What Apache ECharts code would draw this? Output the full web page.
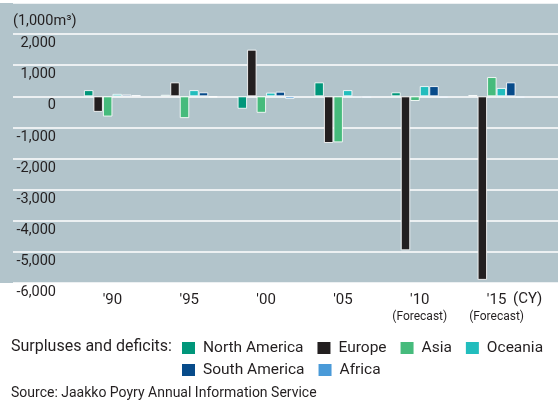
<!DOCTYPE html>
<html>
<head>
<meta charset="utf-8">
<script src="https://cdn.jsdelivr.net/npm/echarts@6/dist/echarts.min.js"></script>
<style>
  html, body { margin: 0; padding: 0; background: #ffffff; }
  #chart { width: 558px; height: 401px; }
</style>
</head>
<body>
<div id="chart"></div>
<script>
// Calendar years (x categories) and the forecast notes under them
const years = ["'90", "'95", "'00", "'05", "'10", "'15"];
const yearNotes = ['', '', '', '', '(Forecast)', '(Forecast)'];

// Surpluses (+) and deficits (-) by region, 1,000 m³
const northAmerica = [200, 50, -400, 450, 130, 40];
const europe       = [-500, 450, 1500, -1500, -4950, -5900];
const asia         = [-650, -700, -530, -1480, -150, 620];
const oceania      = [80, 200, 120, 200, 330, 270];
const southAmerica = [60, 130, 150, -50, 330, 450];
const africa       = [40, -30, -80, -50, -50, -50];

const regionNames = ['North America', 'Europe', 'Asia', 'Oceania', 'South America', 'Africa'];
const regionValues = [northAmerica, europe, asia, oceania, southAmerica, africa];
const regionColors = ['#00967a', '#231f20', '#46bb7c', '#22bdbd', '#074b8a', '#4a9ad8'];

// Value axis range
const yMin = -6000, yMax = 3000, yStep = 1000;

const textColor = '#231f20';
const fontFamily = 'Roboto, "DejaVu Sans", sans-serif';

const chart = echarts.init(document.getElementById('chart'), null, { renderer: 'canvas' });

const series = regionNames.map((name, i) => ({
  name: name,
  type: 'bar',
  xAxisIndex: 1,
  yAxisIndex: 1,
  data: regionValues[i],
  barWidth: 9.5,
  barGap: '0%',
  itemStyle: {
    color: regionColors[i],
    borderColor: 'rgba(255,255,255,0.85)',
    borderWidth: 1
  },
  emphasis: { disabled: true }
}));

const legendBase = {
  left: 182,
  padding: 0,
  icon: 'rect', itemWidth: 13, itemHeight: 12, itemGap: 14,
  itemStyle: { borderWidth: 0 },
  selectedMode: false,
  textStyle: { fontSize: 15.5, color: textColor, padding: [0, 0, 0, 3] }
};

chart.setOption({
  animation: false,
  backgroundColor: '#ffffff',
  textStyle: { fontFamily: fontFamily, color: textColor },
  graphic: [
    {
      type: 'rect', z: -10, silent: true,
      shape: { x: 0, y: 3, width: 558, height: 280 },
      style: { fill: '#b2c4cb' }
    },
    {
      type: 'text', left: 13, top: 14,
      style: { text: '(1,000m³)', fontSize: 14.5, fill: textColor, fontFamily: fontFamily }
    },
    {
      type: 'text', left: 513, top: 292,
      style: { text: '(CY)', fontSize: 15, fill: textColor, fontFamily: fontFamily }
    },
    {
      type: 'text', left: 11, top: 339,
      style: { text: 'Surpluses and deficits:', fontSize: 16, fill: textColor, fontFamily: fontFamily }
    },
    {
      type: 'text', left: 11, top: 386,
      style: { text: 'Source: Jaakko Poyry Annual Information Service', fontSize: 14, fill: textColor, fontFamily: fontFamily }
    }
  ],
  grid: [
    // gridlines and value labels
    { left: 13, right: 0, top: 3, bottom: 118 },
    // bars and year labels
    { left: 74, right: 23, top: 3, bottom: 118 }
  ],
  xAxis: [
    { gridIndex: 0, type: 'category', data: years, show: false },
    {
      gridIndex: 1, type: 'category', data: years,
      axisLine: { show: false }, axisTick: { show: false },
      axisLabel: {
        interval: 0,
        margin: 9,
        fontSize: 15,
        lineHeight: 17,
        color: textColor,
        formatter: (v, idx) => yearNotes[idx] ? v + '\n{f|' + yearNotes[idx] + '}' : v,
        rich: { f: { fontSize: 12, lineHeight: 15, color: textColor } }
      }
    }
  ],
  yAxis: [
    {
      gridIndex: 0, type: 'value', min: yMin, max: yMax, interval: yStep,
      axisLine: { show: false }, axisTick: { show: false },
      splitLine: { show: true, lineStyle: { color: '#ffffff', width: 1.5 } },
      axisLabel: {
        inside: true,
        align: 'right',
        verticalAlign: 'top',
        margin: 43,
        padding: [2, 0, 0, 0],
        fontSize: 14.5,
        color: textColor,
        formatter: v => v === yMax ? '' : v.toLocaleString('en-US')
      }
    },
    {
      gridIndex: 1, type: 'value', min: yMin, max: yMax, interval: yStep,
      show: false, splitLine: { show: false }
    }
  ],
  legend: [
    Object.assign({ data: regionNames.slice(0, 4), top: 340 }, legendBase),
    Object.assign({ data: regionNames.slice(4), top: 362 }, legendBase)
  ],
  series: series
});
</script>
</body>
</html>
